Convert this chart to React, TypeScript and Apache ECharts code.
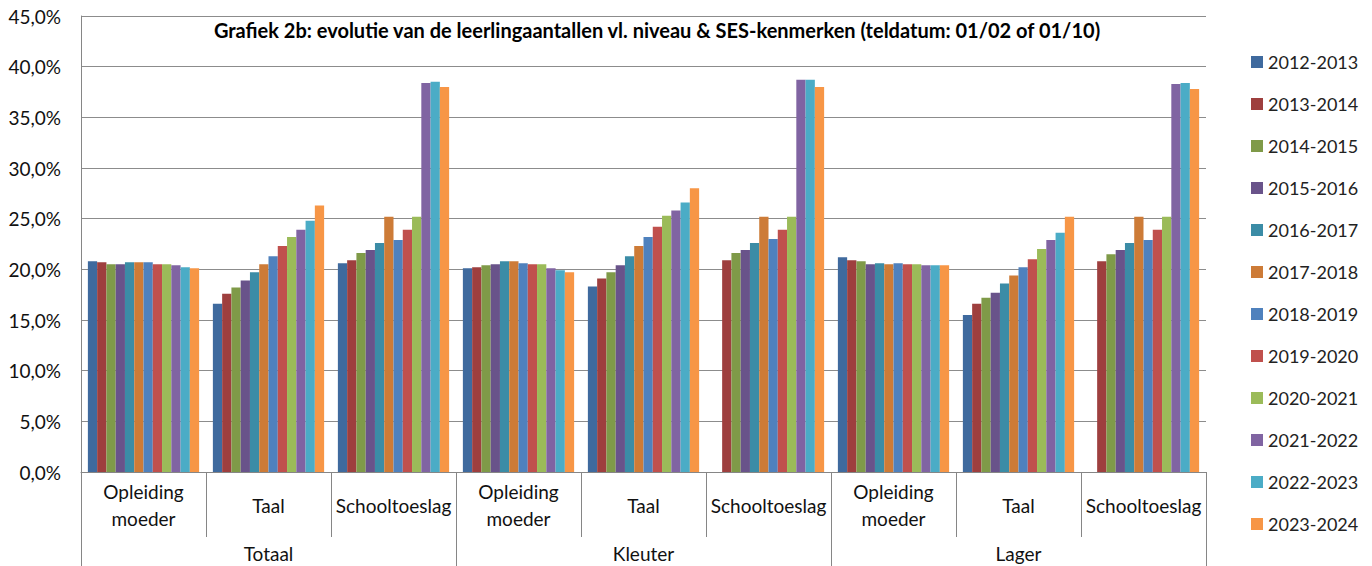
import React, { useEffect, useRef } from "react";
import * as echarts from "echarts";

const years = [
  "2012-2013", "2013-2014", "2014-2015", "2015-2016", "2016-2017", "2017-2018",
  "2018-2019", "2019-2020", "2020-2021", "2021-2022", "2022-2023", "2023-2024",
];

const categories = [
  "Opleiding\nmoeder", "Taal", "Schooltoeslag",
  "Opleiding\nmoeder", "Taal", "Schooltoeslag",
  "Opleiding\nmoeder", "Taal", "Schooltoeslag",
];

const groups = ["Totaal", "Kleuter", "Lager"];

const colors = [
  "#3f6a9e", "#9e3f3e", "#7f9a48", "#69538a", "#3b8ca6", "#cd7b37",
  "#4f81bd", "#c0504d", "#9bbb59", "#8064a2", "#4bacc6", "#f79646",
];

// values per school year, in order of the 9 categories (Totaal / Kleuter / Lager)
const v2012 = [20.8, 16.6, 20.6, 20.1, 18.3, null, 21.2, 15.5, null];
const v2013 = [20.7, 17.6, 20.9, 20.2, 19.1, 20.9, 20.9, 16.6, 20.8];
const v2014 = [20.5, 18.2, 21.6, 20.4, 19.7, 21.6, 20.8, 17.2, 21.5];
const v2015 = [20.5, 18.9, 21.9, 20.5, 20.4, 21.9, 20.5, 17.7, 21.9];
const v2016 = [20.7, 19.7, 22.6, 20.8, 21.3, 22.6, 20.6, 18.6, 22.6];
const v2017 = [20.7, 20.5, 25.2, 20.8, 22.3, 25.2, 20.5, 19.4, 25.2];
const v2018 = [20.7, 21.3, 22.9, 20.6, 23.2, 23.0, 20.6, 20.2, 22.9];
const v2019 = [20.5, 22.3, 23.9, 20.5, 24.2, 23.9, 20.5, 21.0, 23.9];
const v2020 = [20.5, 23.2, 25.2, 20.5, 25.3, 25.2, 20.5, 22.0, 25.2];
const v2021 = [20.4, 23.9, 38.4, 20.1, 25.8, 38.7, 20.4, 22.9, 38.3];
const v2022 = [20.2, 24.8, 38.5, 19.9, 26.6, 38.7, 20.4, 23.6, 38.4];
const v2023 = [20.1, 26.3, 38.0, 19.7, 28.0, 38.0, 20.4, 25.2, 37.8];

const seriesValues = [
  v2012, v2013, v2014, v2015, v2016, v2017,
  v2018, v2019, v2020, v2021, v2022, v2023,
];

const titleText =
  "Grafiek 2b: evolutie van de leerlingaantallen vl. niveau & SES-kenmerken (teldatum: 01/02 of 01/10)";

const FONT = "Lato";

export default function App() {
  const ref = useRef<HTMLDivElement>(null);

  useEffect(() => {
    document.body.style.margin = "0";
    const chart = echarts.init(ref.current!, undefined, { renderer: "svg" });
    const option: any = {
      animation: false,
      backgroundColor: "#ffffff",
      textStyle: { fontFamily: FONT },
      color: colors,
      graphic: [
        {
          type: "text",
          x: 657,
          y: 30,
          style: {
            text: titleText,
            fontFamily: FONT,
            fontWeight: "bold",
            fontSize: 20,
            fill: "#000",
            align: "center",
            verticalAlign: "middle",
          },
        },
      ],
      legend: {
        orient: "vertical",
        left: 1246,
        top: 47,
        icon: "rect",
        itemWidth: 12,
        itemHeight: 12,
        itemGap: 22,
        textStyle: { fontFamily: FONT, fontSize: 18, color: "#222", lineHeight: 20 },
        data: years,
      },
      grid: { left: 81, right: 166, top: 16, bottom: 94 },
      xAxis: [
        {
          type: "category",
          data: categories,
          position: "bottom",
          axisLine: { show: true, lineStyle: { color: "#868686", width: 1 } },
          axisTick: { show: true, interval: 0, length: 65, lineStyle: { color: "#868686" } },
          axisLabel: {
            interval: 0,
            fontFamily: FONT,
            fontSize: 19,
            color: "#111",
            lineHeight: 27,
            verticalAlign: "middle",
            margin: 33,
          },
          splitLine: { show: false },
        },
        {
          type: "category",
          data: groups,
          position: "bottom",
          offset: 0,
          axisLine: { show: false },
          axisTick: { show: true, interval: 0, length: 94, lineStyle: { color: "#868686" } },
          axisLabel: {
            interval: 0,
            fontFamily: FONT,
            fontSize: 19,
            color: "#111",
            verticalAlign: "middle",
            margin: 81,
          },
          splitLine: { show: false },
        },
      ],
      yAxis: {
        type: "value",
        min: 0,
        max: 45,
        interval: 5,
        axisLine: { show: true, lineStyle: { color: "#868686" } },
        axisTick: { show: false },
        splitLine: { show: true, lineStyle: { color: "#8c8c8c", width: 1 } },
        axisLabel: {
          fontFamily: FONT,
          fontSize: 19,
          color: "#111",
          margin: 20,
          formatter: (v: number) => v.toFixed(1).replace(".", ",") + "%",
        },
      },
      series: years.map((y, i) => ({
        name: y,
        type: "bar",
        xAxisIndex: 0,
        data: seriesValues[i],
        barGap: "0%",
        barCategoryGap: "11%",
        itemStyle: { color: colors[i] },
      })),
    };
    chart.setOption(option);
    return () => chart.dispose();
  }, []);

  return (
    <div
      ref={ref}
      style={{ position: "absolute", left: 0, top: 0, width: 1372, height: 566 }}
    />
  );
}
